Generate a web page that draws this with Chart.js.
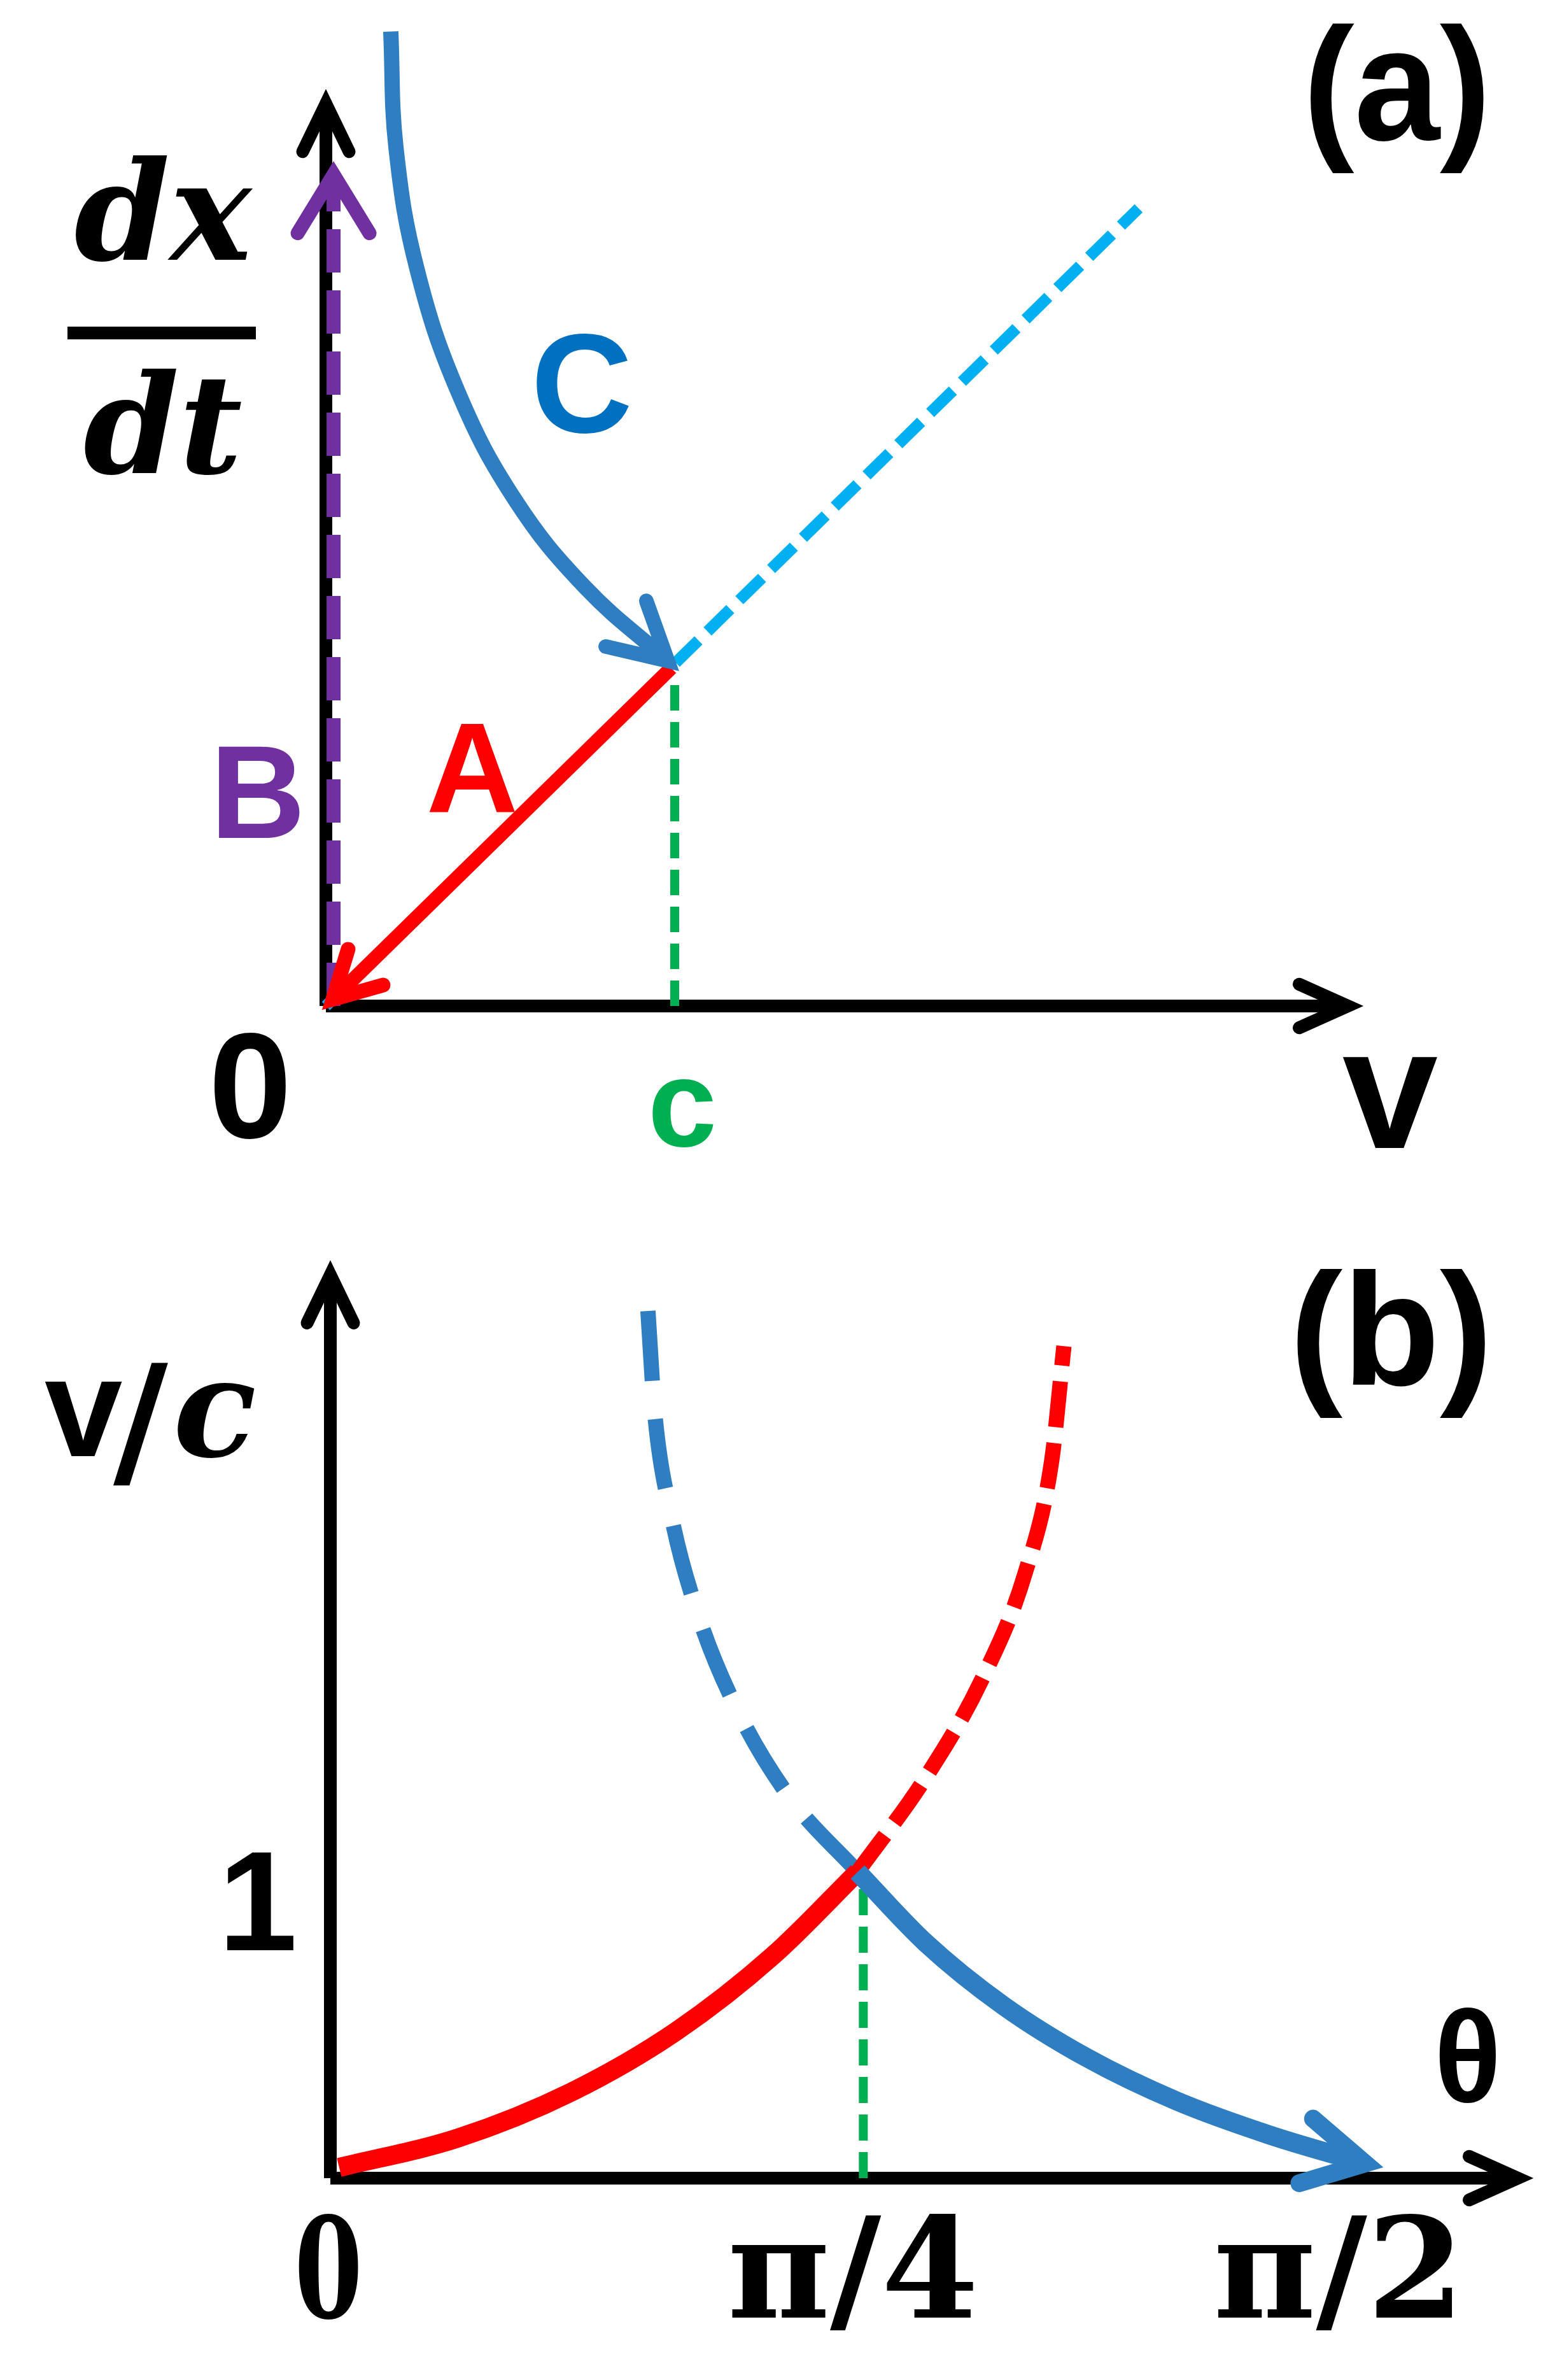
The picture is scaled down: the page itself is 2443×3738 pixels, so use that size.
<!DOCTYPE html>
<html>
<head>
<meta charset="utf-8">
<script src="https://cdn.jsdelivr.net/npm/chart.js@4/dist/chart.umd.min.js"></script>
<style>
body { margin: 0; background: #fff; width: 2443px; height: 3738px; overflow: hidden; }
canvas { position: absolute; left: 0; }
#ca { top: 0; }
#cb { top: 1850px; }
</style>
</head>
<body>
<canvas id="ca" width="2443" height="1850"></canvas>
<canvas id="cb" width="2443" height="1888"></canvas>
<script>
// ---- panel (a): dx/dt against v (v in units of c) ----
let a_axis_x = [0, 2.93], a_axis_x0 = [0, 0]
let a_axis_y0 = [0, 0], a_axis_y = [0, 2.67]
let light_x = [0, 2.33], light_y = [0, 2.36]          // dx/dt = v (cyan dashed)
let A_x = [0.99, 0.02], A_y = [1.0, 0.02]              // red arrow A
let B_x = [0.022, 0.022], B_y = [0.0, 2.46]            // purple arrow B
let C_x = [0.186, 0.201, 0.261, 0.380, 0.544, 0.743, 0.980]
let C_y = [2.883, 2.539, 2.181, 1.814, 1.495, 1.239, 1.021]
let c_mark_x = [1, 1], c_mark_y = [0, 0.98]
let a_ticks = [1], a_tick_labels = ['c']

// ---- panel (b): v/c against theta (radians) ----
let b_axis_x = [0, 1.75], b_axis_x0 = [0, 0]
let b_axis_y0 = [0, 0], b_axis_y = [0, 2.95]
let tan_solid_x = [0.013, 0.188, 0.355, 0.510, 0.652, 0.777]
let tan_solid_y = [0.035, 0.131, 0.281, 0.480, 0.726, 1.0]
let tan_dash_x = [0.777, 0.876, 0.960, 1.024, 1.063, 1.081]
let tan_dash_y = [1.0, 1.304, 1.628, 1.977, 2.343, 2.717]
let cot_dash_x = [0.468, 0.478, 0.502, 0.541, 0.598, 0.675, 0.777]
let cot_dash_y = [2.832, 2.499, 2.168, 1.846, 1.536, 1.249, 1.0]
let cot_solid_x = [0.777, 0.878, 0.992, 1.115, 1.247, 1.384, 1.525]
let cot_solid_y = [1.0, 0.767, 0.563, 0.393, 0.252, 0.141, 0.048]
let q_mark_x = [Math.PI / 4, Math.PI / 4], q_mark_y = [0, 0.95]
let b_ticks = [0, Math.PI / 4, Math.PI / 2], b_tick_labels = ['0', 'π/4', 'π/2']
let b_yticks = [1], b_ytick_labels = ['1']

function pts(xs, ys) {
    let out = []
    for (let i = 0; i < xs.length; i++) out.push({ x: xs[i], y: ys[i] })
    return out
}

// smooth: 'monotone', a tension number, or nothing for straight segments
function line(xs, ys, color, width, dash, arrow, smooth) {
    return {
        data: pts(xs, ys),
        showLine: true,
        borderColor: color,
        borderWidth: width,
        borderDash: dash || [],
        borderCapStyle: 'butt',
        borderJoinStyle: 'round',
        pointRadius: 0,
        clip: false,
        cubicInterpolationMode: smooth === 'monotone' ? 'monotone' : 'default',
        tension: typeof smooth === 'number' ? smooth : 0,
        arrow: arrow
    }
}

// open arrow head at the last point of a dataset: [arm length, half angle, width, turn]
const arrowPlugin = {
    id: 'arrows',
    afterDatasetsDraw(chart) {
        let ctx = chart.ctx
        chart.data.datasets.forEach((ds, i) => {
            if (!ds.arrow) return
            let els = chart.getDatasetMeta(i).data
            let p = els[els.length - 1], q = els[els.length - 2]
            let [len, spread, w, turn] = ds.arrow
            let ang = Math.atan2(p.y - q.y, p.x - q.x) + (turn || 0)
            ctx.save()
            ctx.strokeStyle = ds.borderColor
            ctx.lineWidth = w
            ctx.lineCap = 'round'
            ctx.lineJoin = 'miter'
            ctx.setLineDash([])
            ctx.beginPath()
            ctx.moveTo(p.x - len * Math.cos(ang - spread), p.y - len * Math.sin(ang - spread))
            ctx.lineTo(p.x, p.y)
            ctx.lineTo(p.x - len * Math.cos(ang + spread), p.y - len * Math.sin(ang + spread))
            ctx.stroke()
            ctx.restore()
        })
    }
}

const labelPlugin = {
    id: 'labels',
    afterDraw(chart, args, opts) {
        let ctx = chart.ctx
        for (let t of opts.items || []) {
            let x = t.xv !== undefined ? chart.scales.x.getPixelForValue(t.xv) + (t.dx || 0) : t.x
            let y = t.yv !== undefined ? chart.scales.y.getPixelForValue(t.yv) + (t.dy || 0) : t.y
            ctx.save()
            ctx.font = t.font
            ctx.fillStyle = t.color || '#000'
            ctx.textAlign = t.align || 'center'
            ctx.textBaseline = 'alphabetic'
            ctx.translate(x, y)
            ctx.scale(t.sx || 1, 1)
            ctx.fillText(t.text, 0, 0)
            ctx.restore()
        }
        for (let b of opts.bars || []) {
            ctx.fillStyle = '#000'
            ctx.fillRect(b[0], b[1], b[2], b[3])
        }
    }
}

function makeChart(id, datasets, xr, yr, pad, items, bars) {
    return new Chart(document.getElementById(id), {
        type: 'scatter',
        data: { datasets: datasets },
        options: {
            responsive: false,
            animation: false,
            devicePixelRatio: 1,
            layout: { padding: pad },
            elements: { line: { capBezierPoints: false } },
            plugins: {
                legend: { display: false },
                tooltip: { enabled: false },
                labels: { items: items, bars: bars || [] }
            },
            scales: {
                x: { type: 'linear', min: xr[0], max: xr[1], display: false },
                y: { type: 'linear', min: yr[0], max: yr[1], display: false }
            }
        },
        plugins: [arrowPlugin, labelPlugin]
    })
}

const SANS = '"Liberation Sans", Arial, sans-serif'
const SERIF = '"DejaVu Serif", serif'

// first dataset is drawn on top
let a_sets = [
    line(A_x, A_y, '#FF0000', 22, null, [82, 0.5, 23]),
    line(C_x, C_y, '#2E7EC1', 24, null, [100, 0.5, 23, 0], 0.4),
    line(B_x, B_y, '#7030A0', 22, [68, 28], [108, 0.55, 22]),
    line(light_x, light_y, '#00B0F0', 18, [50, 20]),
    line(c_mark_x, c_mark_y, '#00B050', 14, [40, 18]),
    line(a_axis_y0, a_axis_y, '#000', 20, null, [84, 0.45, 20]),
    line(a_axis_x, a_axis_x0, '#000', 20, null, [84, 0.42, 20])
]

let a_items = [
    { text: '(a)', font: 'bold 252px ' + SANS, x: 2047, y: 220, align: 'left', sx: 0.96 },
    { text: 'C', font: 'bold 221px ' + SANS, x: 914, y: 679, color: '#0070C0' },
    { text: 'A', font: 'bold 200px ' + SANS, x: 742, y: 1275, color: '#FF0000' },
    { text: 'B', font: 'bold 207px ' + SANS, x: 405, y: 1316, color: '#7030A0' },
    { text: 'v', font: 'bold 270px ' + SANS, x: 2184, y: 1803 },
    { text: 'dx', font: 'bold italic 215px ' + SERIF, x: 256, y: 408 },
    { text: 'dt', font: 'bold italic 215px ' + SERIF, x: 256, y: 743 },
    { text: '0', font: 'bold 235px ' + SANS, x: 393, y: 1787 }
]
for (let i = 0; i < a_ticks.length; i++) {
    a_items.push({ text: a_tick_labels[i], font: 'bold 195px ' + SANS, xv: a_ticks[i], dx: 12, y: 1800, color: '#00B050' })
}

makeChart('ca', a_sets, [0, 3], [0, 2.95], { left: 512, right: 287, top: 14, bottom: 270 },
    a_items, [[106, 513, 296, 20]])

let b_sets = [
    line(cot_solid_x, cot_solid_y, '#2E7EC1', 30, null, [108, 0.5, 28, -0.08], 'monotone'),
    line(tan_solid_x, tan_solid_y, '#FF0000', 30, null, null, 'monotone'),
    line(tan_dash_x, tan_dash_y, '#FF0000', 24, [72, 25], null, 'monotone'),
    line(cot_dash_x, cot_dash_y, '#2E7EC1', 24, [110, 60], null, 'monotone'),
    line(q_mark_x, q_mark_y, '#00B050', 14, [41, 18]),
    line(b_axis_y0, b_axis_y, '#000', 20, null, [84, 0.45, 20]),
    line(b_axis_x, b_axis_x0, '#000', 20, null, [84, 0.42, 20])
]

let b_items = [
    { text: '(b)', font: 'bold 250px ' + SANS, x: 2026, y: 325, align: 'left', sx: 1.0 },
    { text: 'v', font: 'bold 220px ' + SANS, x: 70, y: 437, align: 'left' },
    { text: '/', font: 'bold 235px ' + SERIF, x: 178, y: 461, align: 'left' },
    { text: 'c', font: 'bold italic 215px ' + SERIF, x: 272, y: 437, align: 'left' },
    { text: 'θ', font: 'bold 205px ' + SANS, x: 2306, y: 1451, sx: 0.95 }
]
let b_nudge = [-3, -16, -90]
let b_sx = [0.7, 1, 1]
for (let i = 0; i < b_ticks.length; i++) {
    b_items.push({ text: b_tick_labels[i], font: 'bold 220px ' + SERIF, xv: b_ticks[i], dx: b_nudge[i], y: 1790, sx: b_sx[i] })
}
for (let i = 0; i < b_yticks.length; i++) {
    b_items.push({ text: b_ytick_labels[i], font: 'bold 223px ' + SANS, x: 405, yv: b_yticks[i], dy: 123 })
}

makeChart('cb', b_sets, [0, 1.8], [0, 3.2], { left: 519, right: 5, top: 32, bottom: 317 }, b_items)
</script>
</body>
</html>
